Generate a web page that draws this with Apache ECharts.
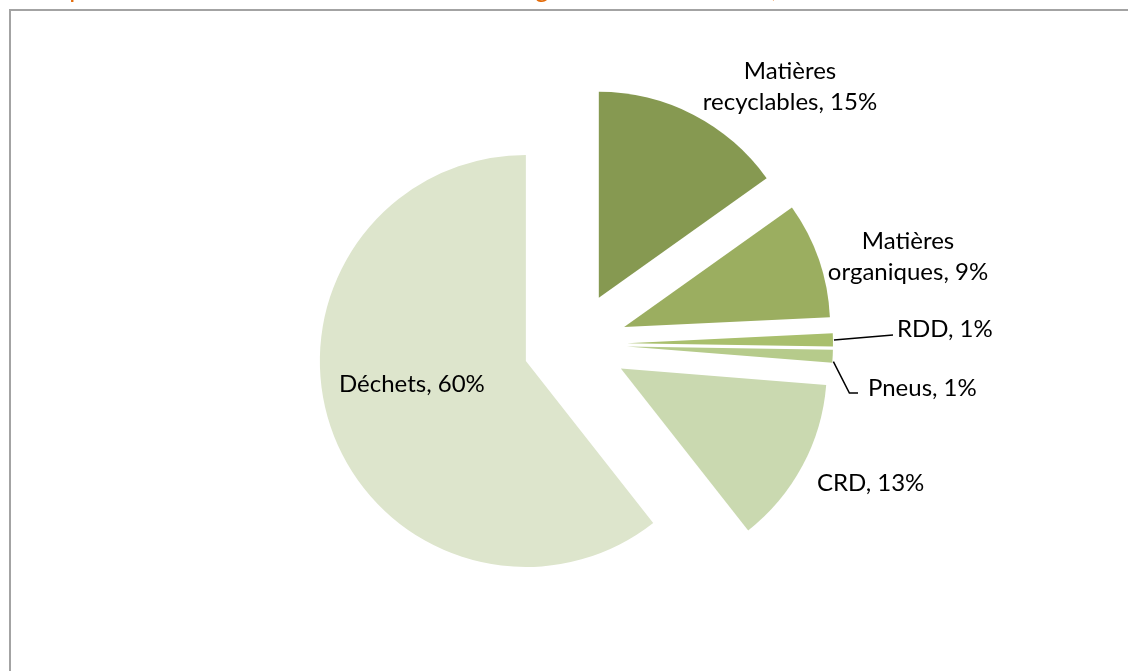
<!DOCTYPE html>
<html>
<head>
<meta charset="utf-8">
<script src="https://cdn.jsdelivr.net/npm/echarts@6/dist/echarts.min.js"></script>
<style>
html,body{margin:0;padding:0;background:#fff;}
#c{width:1128px;height:671px;}
</style>
</head>
<body>
<div id="c"></div>
<script>
const categories = ['Matières recyclables', 'Matières organiques', 'RDD', 'Pneus', 'CRD', 'Déchets'];
const labelNames = ['Matières\nrecyclables', 'Matières\norganiques', 'RDD', 'Pneus', 'CRD', 'Déchets'];
const values = [15, 9, 1, 1, 13, 60];
const colors = ['#869951', '#9bae60', '#a9bf6d', '#b6cb8b', '#cad9b0', '#dde5cc'];
const titleText = 'Répartition des matières résiduelles totales générées à la maison, 2010';

// label placement (layout only)
const labelPos = [
  {x: 790, y: 87, align: 'center'},
  {x: 908, y: 257, align: 'center'},
  {x: 897, y: 329, align: 'left'},
  {x: 868, y: 388, align: 'left'},
  {x: 817, y: 483, align: 'left'},
  {x: 339, y: 384, align: 'left'}
];

const CX = 575, CY = 344, R = 206, OFF = 52;
const total = values.reduce((a, b) => a + b, 0);

// outer-arc anchor of a slice (at a fraction along its angular span), including explode offset
function anchor(i, frac, extra) {
  let a0 = 0;
  for (let k = 0; k < i; k++) a0 += values[k] / total * 2 * Math.PI;
  const span = values[i] / total * 2 * Math.PI;
  const mid = a0 + span / 2;
  const a = a0 + span * frac;
  const ox = OFF * Math.sin(mid), oy = -OFF * Math.cos(mid);
  return [CX + ox + (R + extra) * Math.sin(a), CY + oy - (R + extra) * Math.cos(a)];
}

const graphics = [
  {type: 'rect', shape: {x: 10, y: 10, width: 1300, height: 900},
   style: {fill: 'none', stroke: '#a3a3a3', lineWidth: 2}, z: 0, silent: true},
  {type: 'text', x: 40, y: -24,
   style: {text: titleText, fill: '#e46c0a', font: '26px Lato', textAlign: 'left', textVerticalAlign: 'top'}, z: 10}
];

labelNames.forEach((n, i) => {
  const lp = labelPos[i];
  graphics.push({
    type: 'text', x: lp.x, y: lp.y, z: 20,
    style: {
      text: n + ', ' + values[i] + '%',
      font: '24px Lato', fill: '#000', lineHeight: 31,
      textAlign: lp.align, textVerticalAlign: 'middle'
    }
  });
});

// leader lines for the two small slices
const a2 = anchor(2, 0.5, 1);
graphics.push({type: 'polyline', z: 15,
  shape: {points: [a2, [labelPos[2].x - 4, labelPos[2].y + 6]]},
  style: {stroke: '#000', lineWidth: 1.5, fill: 'none'}});
const a3 = anchor(3, 0.9, 1);
graphics.push({type: 'polyline', z: 15,
  shape: {points: [a3, [a3[0] + 16, labelPos[3].y + 5], [labelPos[3].x - 10, labelPos[3].y + 5]]},
  style: {stroke: '#000', lineWidth: 1.5, fill: 'none'}});

const chart = echarts.init(document.getElementById('c'), null, {renderer: 'canvas'});
chart.setOption({
  animation: false,
  backgroundColor: '#ffffff',
  graphic: graphics,
  series: [{
    type: 'pie',
    center: [CX, CY],
    radius: R,
    startAngle: 90,
    clockwise: true,
    selectedMode: 'multiple',
    selectedOffset: OFF,
    emphasis: {disabled: true},
    itemStyle: {borderWidth: 0},
    label: {show: false},
    labelLine: {show: false},
    data: categories.map((c, i) => ({
      name: c,
      value: values[i],
      selected: true,
      itemStyle: {color: colors[i]}
    }))
  }]
});
</script>
</body>
</html>
